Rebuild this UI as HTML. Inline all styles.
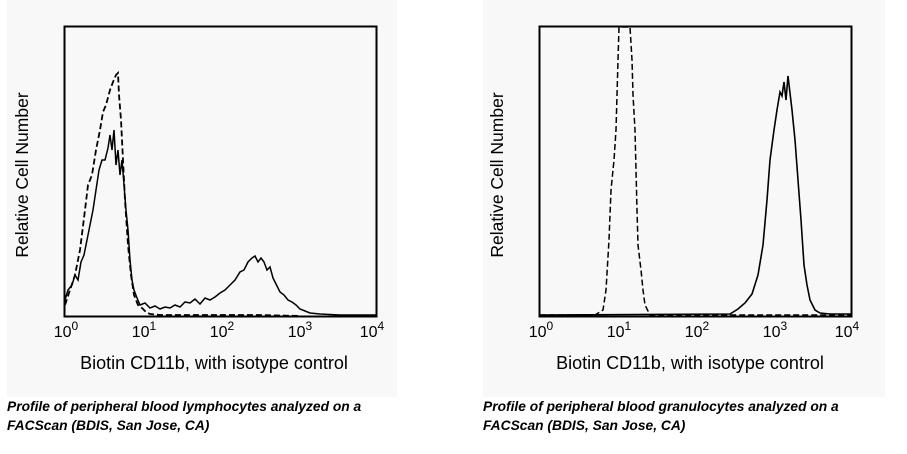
<!DOCTYPE html>
<html><head><style>
body{margin:0;width:907px;height:449px;background:#fff;overflow:hidden;font-family:"Liberation Sans",Arial,sans-serif}
</style></head><body>
<svg width="907" height="449" xmlns="http://www.w3.org/2000/svg" font-family="Liberation Sans, Arial, sans-serif">
<rect x="7" y="0" width="390" height="397" fill="#f8f8f8"/>
<rect x="483" y="0" width="402" height="397" fill="#f8f8f8"/>
<g fill="none" stroke="#000">
<rect x="64.5" y="26.5" width="312" height="290" stroke-width="2"/>
<rect x="539.5" y="26.5" width="312" height="290" stroke-width="2"/>
<polyline stroke-width="1.8" stroke-dasharray="6,3" points="65,305 70,290 75,275 80,250 85,210 88,185 92,175 96,150 100,130 103,112 106,105 110,90 113,82 116,75 118,73 119,95 121,120 123,160 125,200 128,245 131,275 134,295 138,305 142,308 146,312 150,314 160,315 180,315 220,315 260,315 300,316"/>
<polyline stroke-width="1.5" points="65,300 68,290 72,285 75,275 78,280 81,262 84,255 87,240 90,225 93,210 96,190 99,170 102,160 105,160 108,148 110,135 112,150 114,130 116,165 118,150 120,175 122,160 124,185 126,210 128,230 130,260 132,280 134,290 137,298 140,305 145,303 150,308 155,306 160,309 165,307 170,308 175,305 180,307 185,302 190,303 195,299 200,304 205,298 210,300 215,297 220,293 225,290 230,285 235,280 240,272 244,270 248,262 252,258 255,256 258,262 261,258 264,262 267,270 270,267 273,278 276,284 280,292 284,295 288,300 292,302 296,305 300,309 305,311 310,313 320,314 340,315 376,315"/>
<polyline stroke-width="1.5" stroke-dasharray="6,3" points="540,315 595,315 603,310 606,290 609,240 611,190 614,160 616,130 617,95 618,60 619,27 630,27 632,60 633,95 635,130 636,170 637,210 638,245 641,270 643,290 645,305 650,315 851,315"/>
<polyline stroke-width="1.6" points="540,315 730,314 738,309 745,303 752,294 758,275 763,245 767,200 770,160 774,130 777,110 780,92 782,96 784,82 786,100 788,76 790,93 792,110 795,140 798,180 801,220 804,265 807,285 810,300 815,310 820,313 830,314 851,314"/>
</g>
<g font-size="16" fill="#000" text-anchor="middle">
<text x="66" y="337">10<tspan dy="-7" font-size="12">0</tspan></text>
<text x="144" y="337">10<tspan dy="-7" font-size="12">1</tspan></text>
<text x="222" y="337">10<tspan dy="-7" font-size="12">2</tspan></text>
<text x="300" y="337">10<tspan dy="-7" font-size="12">3</tspan></text>
<text x="372" y="337">10<tspan dy="-7" font-size="12">4</tspan></text>
<text x="541" y="337">10<tspan dy="-7" font-size="12">0</tspan></text>
<text x="619" y="337">10<tspan dy="-7" font-size="12">1</tspan></text>
<text x="697" y="337">10<tspan dy="-7" font-size="12">2</tspan></text>
<text x="775" y="337">10<tspan dy="-7" font-size="12">3</tspan></text>
<text x="847" y="337">10<tspan dy="-7" font-size="12">4</tspan></text>
<text x="214" y="369" font-size="18">Biotin CD11b, with isotype control</text>
<text x="690" y="369" font-size="18">Biotin CD11b, with isotype control</text>
<text transform="translate(28,175) rotate(-90)" font-size="17.5">Relative Cell Number</text>
<text transform="translate(503,175) rotate(-90)" font-size="17.5">Relative Cell Number</text>
</g>
<g font-size="13.8" font-weight="bold" font-style="italic" fill="#000">
<text x="7" y="411">Profile of peripheral blood lymphocytes analyzed on a</text>
<text x="7" y="430">FACScan (BDIS, San Jose, CA)</text>
<text x="483" y="411">Profile of peripheral blood granulocytes analyzed on a</text>
<text x="483" y="430">FACScan (BDIS, San Jose, CA)</text>
</g>
</svg>
</body></html>
